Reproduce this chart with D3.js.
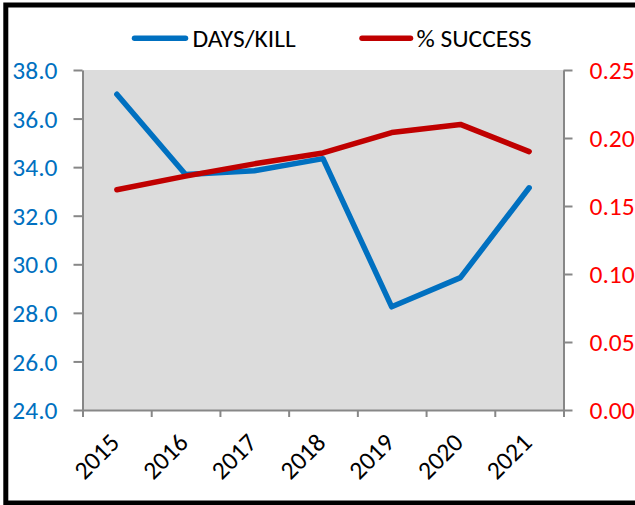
<!DOCTYPE html>
<html>
<head>
<meta charset="utf-8">
<script src="https://cdn.jsdelivr.net/npm/d3@7"></script>
<style>
  html, body { margin: 0; padding: 0; background: #fff; }
  svg { display: block; }
  text { font-family: Carlito, Calibri, "Open Sans", sans-serif; }
</style>
</head>
<body>
<svg id="chart" width="635" height="505"></svg>
<script>
// ---- data ----
const years = ["2015", "2016", "2017", "2018", "2019", "2020", "2021"];
const daysPerKill = [37.0, 33.7, 33.85, 34.35, 28.25, 29.45, 33.15];
const successRate = [0.162, 0.172, 0.181, 0.189, 0.204, 0.210, 0.190];
const leftTicks = [24, 26, 28, 30, 32, 34, 36, 38];
const rightTicks = [0, 0.05, 0.10, 0.15, 0.20, 0.25];
const seriesNames = ["DAYS/KILL", "% SUCCESS"];

// ---- layout ----
const W = 635, H = 505;
const plot = { left: 82.5, right: 563.5, top: 70, bottom: 410 };
const blue = "#0070C0", red = "#C00000", axisGrey = "#878787";
const fontSize = 25.5;
const FONT = 'Carlito, Calibri, "Open Sans", sans-serif';

const svg = d3.select("#chart");

// outer frame
svg.append("rect")
  .attr("x", 5.8).attr("y", 5).attr("width", 700).attr("height", 498)
  .attr("fill", "#fff").attr("stroke", "#000").attr("stroke-width", 5);

// scales
const x = d3.scaleBand().domain(years).range([plot.left, plot.right]).padding(0);
const yL = d3.scaleLinear().domain([24, 38]).range([plot.bottom, plot.top]);
const yR = d3.scaleLinear().domain([0, 0.25]).range([plot.bottom, plot.top]);

// plot background
svg.append("rect")
  .attr("x", plot.left).attr("y", plot.top)
  .attr("width", plot.right - plot.left).attr("height", plot.bottom - plot.top)
  .attr("fill", "#DCDCDC");

// left axis
const gL = svg.append("g").attr("transform", `translate(${plot.left},0)`)
  .call(d3.axisLeft(yL).tickValues(leftTicks).tickFormat(d3.format(".1f"))
    .tickSize(9).tickSizeOuter(0).tickPadding(16));
gL.select(".domain").attr("stroke", axisGrey).attr("stroke-width", 2);
gL.selectAll(".tick line").attr("stroke", axisGrey).attr("stroke-width", 2);
gL.selectAll(".tick text").attr("fill", blue).attr("font-size", fontSize)
  .attr("dy", "0.34em").style("font-family", FONT);

// right axis
const gR = svg.append("g").attr("transform", `translate(${plot.right},0)`)
  .call(d3.axisRight(yR).tickValues(rightTicks).tickFormat(d3.format(".2f"))
    .tickSize(9).tickSizeOuter(0).tickPadding(17));
gR.select(".domain").attr("stroke", axisGrey).attr("stroke-width", 2);
gR.selectAll(".tick line").attr("stroke", axisGrey).attr("stroke-width", 2);
gR.selectAll(".tick text").attr("fill", "#FF0000").attr("font-size", fontSize)
  .attr("dy", "0.34em").style("font-family", FONT);

// bottom axis: ticks at category boundaries
const xEdge = d3.scaleLinear().domain([0, years.length]).range(x.range());
const gB = svg.append("g").attr("transform", `translate(0,${plot.bottom})`)
  .call(d3.axisBottom(xEdge).tickValues(d3.range(0, years.length + 1))
    .tickFormat("").tickSize(7).tickSizeOuter(0));
gB.select(".domain").attr("stroke", axisGrey).attr("stroke-width", 2);
gB.selectAll(".tick line").attr("stroke", axisGrey).attr("stroke-width", 2);

// rotated category labels
svg.append("g").selectAll("text").data(years).join("text")
  .attr("transform", d => `translate(${x(d) + x.bandwidth() / 2 - 2},438) rotate(-45)`)
  .attr("text-anchor", "end")
  .attr("dy", "0.34em")
  .attr("font-size", fontSize)
  .attr("fill", "#000")
  .text(d => d);

// lines
const lineL = d3.line().x((d, i) => x(years[i]) + x.bandwidth() / 2).y(d => yL(d));
const lineR = d3.line().x((d, i) => x(years[i]) + x.bandwidth() / 2).y(d => yR(d));

svg.append("path").datum(daysPerKill)
  .attr("d", lineL).attr("fill", "none").attr("stroke", blue)
  .attr("stroke-width", 5.5).attr("stroke-linejoin", "round").attr("stroke-linecap", "round");
svg.append("path").datum(successRate)
  .attr("d", lineR).attr("fill", "none").attr("stroke", red)
  .attr("stroke-width", 5.5).attr("stroke-linejoin", "round").attr("stroke-linecap", "round");

// legend
const legendItems = [
  { name: seriesNames[0], color: blue, x0: 134.5, x1: 185.5, tx: 192.5 },
  { name: seriesNames[1], color: red, x0: 362, x1: 410.5, tx: 416.5 }
];
const lg = svg.append("g");
legendItems.forEach(it => {
  lg.append("line").attr("x1", it.x0).attr("x2", it.x1).attr("y1", 38.3).attr("y2", 38.3)
    .attr("stroke", it.color).attr("stroke-width", 5.5).attr("stroke-linecap", "round");
  lg.append("text").attr("x", it.tx).attr("y", 38.3).attr("dy", "0.34em")
    .attr("font-size", fontSize).attr("fill", "#000").text(it.name);
});
</script>
</body>
</html>
